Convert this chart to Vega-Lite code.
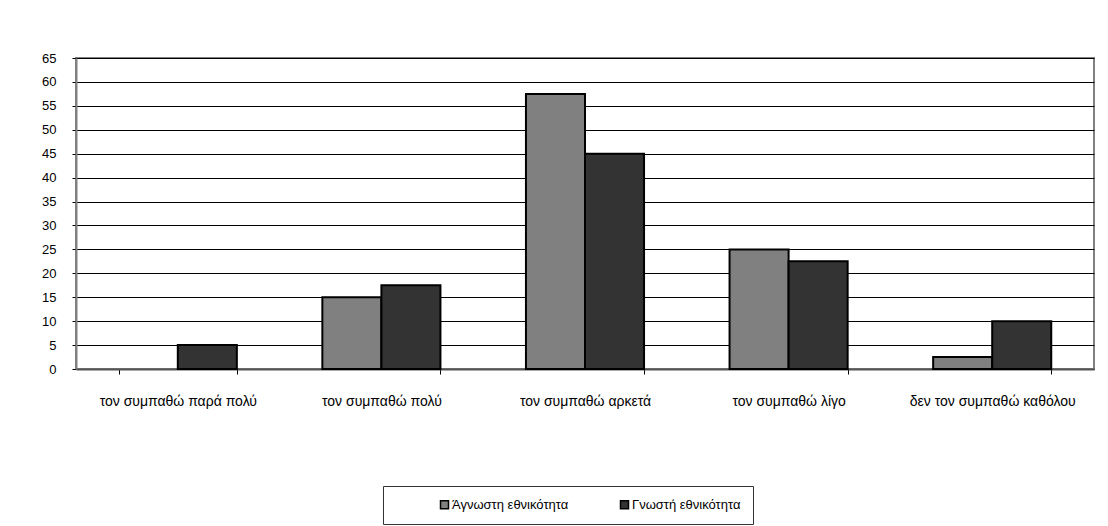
{
  "$schema": "https://vega.github.io/schema/vega-lite/v6.json",
  "width": 1018,
  "height": 311,
  "autosize": {"type": "none"},
  "padding": {"left": 76, "top": 58, "right": 14, "bottom": 157},
  "background": "white",
  "data": {
    "values": [
      {"cat": "τον συμπαθώ παρά πολύ", "group": "Άγνωστη εθνικότητα", "value": 0},
      {"cat": "τον συμπαθώ παρά πολύ", "group": "Γνωστή εθνικότητα", "value": 5},
      {"cat": "τον συμπαθώ πολύ", "group": "Άγνωστη εθνικότητα", "value": 15},
      {"cat": "τον συμπαθώ πολύ", "group": "Γνωστή εθνικότητα", "value": 17.5},
      {"cat": "τον συμπαθώ αρκετά", "group": "Άγνωστη εθνικότητα", "value": 57.5},
      {"cat": "τον συμπαθώ αρκετά", "group": "Γνωστή εθνικότητα", "value": 45},
      {"cat": "τον συμπαθώ λίγο", "group": "Άγνωστη εθνικότητα", "value": 25},
      {"cat": "τον συμπαθώ λίγο", "group": "Γνωστή εθνικότητα", "value": 22.5},
      {"cat": "δεν τον συμπαθώ καθόλου", "group": "Άγνωστη εθνικότητα", "value": 2.5},
      {"cat": "δεν τον συμπαθώ καθόλου", "group": "Γνωστή εθνικότητα", "value": 10}
    ]
  },
  "transform": [{"filter": "datum.value > 0"}],
  "mark": {"type": "bar", "stroke": "black", "strokeWidth": 2},
  "encoding": {
    "x": {
      "field": "cat",
      "type": "nominal",
      "sort": null,
      "title": null,
      "scale": {"domain": ["τον συμπαθώ παρά πολύ", "τον συμπαθώ πολύ", "τον συμπαθώ αρκετά", "τον συμπαθώ λίγο", "δεν τον συμπαθώ καθόλου"], "paddingInner": 0.42, "paddingOuter": 0.21},
      "axis": {
        "labelAngle": 0,
        "labelFont": "Liberation Sans",
        "labelFontSize": 14,
        "labelColor": "black",
        "labelPadding": 20,
        "tickBand": "extent",
        "tickSize": 5,
        "tickColor": "black",
        "tickWidth": 1,
        "domainColor": "#555555",
        "domainWidth": 2,
        "labelLimit": 300
      }
    },
    "xOffset": {
      "field": "group",
      "type": "nominal",
      "scale": {"domain": ["Άγνωστη εθνικότητα", "Γνωστή εθνικότητα"], "paddingInner": 0, "paddingOuter": 0}
    },
    "y": {
      "field": "value",
      "type": "quantitative",
      "title": null,
      "scale": {"domain": [0, 65], "nice": false},
      "axis": {
        "values": [0, 5, 10, 15, 20, 25, 30, 35, 40, 45, 50, 55, 60, 65],
        "labelFont": "Liberation Sans",
        "labelFontSize": 13,
        "labelColor": "black",
        "labelPadding": 16,
        "tickSize": 4,
        "tickColor": "black",
        "domainColor": "#808080",
        "domainWidth": 2,
        "grid": true,
        "gridColor": "black",
        "gridWidth": 1,
        "gridOpacity": 1
      }
    },
    "color": {
      "field": "group",
      "type": "nominal",
      "scale": {
        "domain": ["Άγνωστη εθνικότητα", "Γνωστή εθνικότητα"],
        "range": ["#808080", "#333333"]
      },
      "legend": {
        "title": null,
        "orient": "none",
        "direction": "horizontal",
        "legendX": 307,
        "legendY": 428,
        "gridAlign": "all",
        "symbolType": "square",
        "symbolSize": 64,
        "symbolStrokeColor": "black",
        "symbolStrokeWidth": 1.5,
        "symbolOffset": 43,
        "labelOffset": 1,
        "labelFont": "Liberation Sans",
        "labelFontSize": 13,
        "labelColor": "black",
        "columnPadding": 6,
        "padding": 12,
        "strokeColor": "#333333",
        "fillColor": "white"
      }
    }
  },
  "config": {
    "view": {"stroke": "#808080", "strokeWidth": 2}
  }
}
